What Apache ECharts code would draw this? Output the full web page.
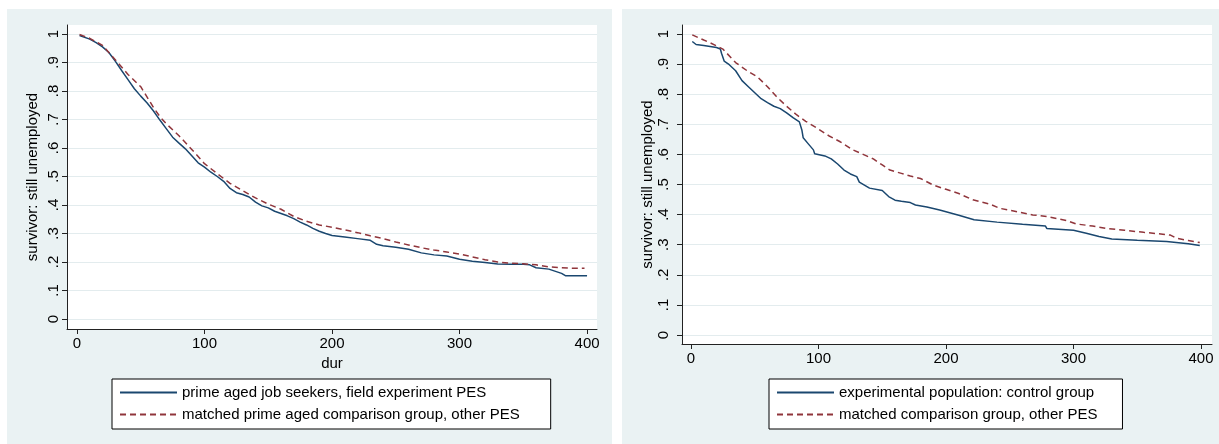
<!DOCTYPE html>
<html>
<head>
<meta charset="utf-8">
<script src="https://cdn.jsdelivr.net/npm/echarts@6/dist/echarts.min.js"></script>
<style>
html,body{margin:0;padding:0;background:#fff;}
#c{width:1219px;height:444px;}
</style>
</head>
<body>
<div id="c"></div>
<script>
// ---------- data ----------
const xTicks = [0, 100, 200, 300, 400];
const yTicks = [0, 0.1, 0.2, 0.3, 0.4, 0.5, 0.6, 0.7, 0.8, 0.9, 1];
const yTickLabels = ['0', '.1', '.2', '.3', '.4', '.5', '.6', '.7', '.8', '.9', '1'];
const yTitle = 'survivor: still unemployed';
const xTitleLeft = 'dur';

const leftNames = ['prime aged job seekers, field experiment PES', 'matched prime aged comparison group, other PES'];
const rightNames = ['experimental population: control group', 'matched comparison group, other PES'];

// Left panel: field experiment PES (solid)
const leftExpDur  = [2, 10, 15, 20, 25, 30, 35, 40, 45, 50, 55, 60, 65, 70, 75, 80, 85, 90, 95, 100, 105, 110, 115, 120, 125, 130, 135, 140, 145, 150, 155, 160, 165, 170, 175, 180, 185, 190, 195, 200, 210, 220, 230, 235, 240, 250, 260, 270, 280, 290, 300, 310, 320, 330, 340, 350, 355, 360, 370, 380, 383, 400];
const leftExpSurv = [0.995, 0.982, 0.97, 0.955, 0.935, 0.905, 0.872, 0.84, 0.808, 0.782, 0.758, 0.73, 0.698, 0.668, 0.638, 0.617, 0.597, 0.573, 0.548, 0.533, 0.515, 0.5, 0.483, 0.458, 0.443, 0.437, 0.428, 0.41, 0.397, 0.39, 0.378, 0.37, 0.362, 0.352, 0.34, 0.33, 0.318, 0.308, 0.3, 0.293, 0.288, 0.282, 0.276, 0.262, 0.257, 0.252, 0.245, 0.232, 0.225, 0.221, 0.21, 0.203, 0.198, 0.193, 0.192, 0.192, 0.19, 0.18, 0.175, 0.16, 0.152, 0.152];
// Left panel: matched comparison group (dashed)
const leftCmpDur  = [2, 10, 20, 30, 40, 50, 60, 65, 70, 80, 90, 100, 110, 120, 130, 140, 150, 160, 170, 180, 190, 200, 210, 220, 230, 240, 250, 260, 270, 280, 290, 300, 310, 320, 330, 340, 350, 360, 370, 380, 390, 398];
const leftCmpSurv = [0.998, 0.985, 0.96, 0.91, 0.858, 0.815, 0.742, 0.71, 0.685, 0.643, 0.595, 0.545, 0.51, 0.476, 0.45, 0.425, 0.403, 0.385, 0.36, 0.343, 0.33, 0.322, 0.313, 0.303, 0.292, 0.282, 0.27, 0.26, 0.25, 0.242, 0.235, 0.228, 0.218, 0.208, 0.2, 0.196, 0.194, 0.19, 0.183, 0.18, 0.178, 0.178];

// Right panel: control group (solid)
const rightExpDur  = [1, 4, 10, 20, 23, 24, 26, 30, 35, 40, 45, 50, 55, 60, 65, 70, 75, 80, 85, 87, 88, 92, 96, 97, 105, 110, 115, 120, 125, 130, 132, 140, 150, 155, 160, 165, 172, 176, 185, 195, 210, 222, 240, 260, 278, 279, 300, 310, 320, 330, 350, 373, 390, 399];
const rightExpSurv = [0.975, 0.965, 0.962, 0.955, 0.95, 0.935, 0.91, 0.898, 0.878, 0.845, 0.825, 0.805, 0.785, 0.772, 0.76, 0.752, 0.738, 0.722, 0.708, 0.68, 0.655, 0.635, 0.615, 0.602, 0.595, 0.585, 0.568, 0.548, 0.535, 0.526, 0.508, 0.488, 0.48, 0.46, 0.448, 0.444, 0.44, 0.432, 0.425, 0.415, 0.398, 0.383, 0.375, 0.368, 0.362, 0.354, 0.348, 0.338, 0.327, 0.319, 0.315, 0.311, 0.303, 0.297];
// Right panel: matched comparison group (dashed)
const rightCmpDur  = [1, 10, 15, 25, 35, 45, 52, 60, 67, 75, 83, 90, 99, 108, 117, 127, 135, 143, 150, 156, 165, 172, 180, 190, 200, 210, 221, 235, 242, 253, 268, 280, 295, 302, 315, 326, 340, 355, 370, 376, 381, 390, 399];
const rightCmpSurv = [0.997, 0.98, 0.971, 0.95, 0.905, 0.875, 0.858, 0.825, 0.792, 0.76, 0.731, 0.71, 0.687, 0.662, 0.642, 0.615, 0.6, 0.585, 0.565, 0.548, 0.537, 0.528, 0.52, 0.498, 0.484, 0.47, 0.449, 0.434, 0.421, 0.412, 0.399, 0.393, 0.38, 0.369, 0.362, 0.354, 0.348, 0.341, 0.335, 0.332, 0.321, 0.314, 0.307];

// ---------- build ----------
const zip = (a, b) => a.map((v, i) => [v, b[i]]);
const FONT = '"Liberation Sans", Arial, sans-serif';
const BLUE = '#1a476f';
const RED = '#90353b';
const PANEL_BG = '#eaf2f3';
const GRIDLINE = '#e3ecee';
const INK = '#000';

const yLabelFmt = v => {
  const i = yTicks.findIndex(t => Math.abs(t - v) < 1e-9);
  return i >= 0 ? yTickLabels[i] : '';
};

function xAxis(grid, min, max, name) {
  return {
    type: 'value', gridIndex: grid, min: min, max: max,
    name: name || '', nameLocation: 'middle', nameGap: 23,
    nameTextStyle: {fontFamily: FONT, fontSize: 15, color: INK},
    axisLine: {show: true, onZero: false, lineStyle: {color: '#222', width: 1}},
    axisTick: {show: true, inside: false, length: 5, customValues: xTicks, lineStyle: {color: '#222'}},
    axisLabel: {show: true, customValues: xTicks, margin: 7, fontFamily: FONT, fontSize: 15, color: INK, formatter: v => String(v)},
    splitLine: {show: false}
  };
}
function yAxis(grid, min, max, margin, nameGap) {
  return {
    type: 'value', gridIndex: grid, min: min, max: max,
    name: yTitle, nameLocation: 'middle', nameGap: nameGap, nameRotate: 90,
    nameTextStyle: {fontFamily: FONT, fontSize: 15, color: INK},
    axisLine: {show: true, onZero: false, lineStyle: {color: '#222', width: 1}},
    axisTick: {show: true, inside: false, length: 5, customValues: yTicks, lineStyle: {color: '#222'}},
    axisLabel: {show: true, customValues: yTicks, rotate: 90, margin: margin, fontFamily: FONT, fontSize: 15, color: INK, formatter: yLabelFmt},
    splitLine: {show: true, lineStyle: {color: GRIDLINE, width: 1.2}}
  };
}
function line(name, data, xi, dashed) {
  return {
    type: 'line', name: name, data: data, xAxisIndex: xi, yAxisIndex: xi,
    symbol: 'none', showSymbol: false, smooth: false,
    lineStyle: {color: dashed ? RED : BLUE, width: 1.5, type: dashed ? [6, 4] : 'solid'},
    itemStyle: {color: dashed ? RED : BLUE},
    emphasis: {disabled: true}
  };
}
function legend(names, left, padRight) {
  return {
    data: names, left: left, top: 379, orient: 'vertical',
    itemWidth: 57, itemHeight: 14, itemGap: 7, itemTextGap: 10,
    padding: [6, padRight, 7, 7],
    borderColor: '#000', borderWidth: 1, backgroundColor: '#fff',
    itemStyle: {opacity: 0, borderWidth: 0},
    textStyle: {fontFamily: FONT, fontSize: 15, color: INK},
    selectedMode: false
  };
}

const chart = echarts.init(document.getElementById('c'), null, {renderer: 'canvas'});
chart.setOption({
  animation: false,
  backgroundColor: '#fff',
  graphic: {elements: [
    {type: 'rect', z: -100, shape: {x: 7, y: 9, width: 605, height: 435}, style: {fill: PANEL_BG}, silent: true},
    {type: 'rect', z: -100, shape: {x: 622, y: 9, width: 597, height: 435}, style: {fill: PANEL_BG}, silent: true}
  ]},
  grid: [
    {left: 67, top: 25, width: 530, height: 304, show: true, backgroundColor: '#fff', borderWidth: 0},
    {left: 682, top: 25, width: 530, height: 319, show: true, backgroundColor: '#fff', borderWidth: 0}
  ],
  xAxis: [xAxis(0, -7.84, 407.8, xTitleLeft), xAxis(1, -7.06, 408.6, '')],
  yAxis: [yAxis(0, -0.0351, 1.0316, 6, 27), yAxis(1, -0.0299, 1.0299, 11, 27)],
  legend: [legend(leftNames, 112, 31), legend(rightNames, 769, 25)],
  series: [
    line(leftNames[0], zip(leftExpDur, leftExpSurv), 0, false),
    line(leftNames[1], zip(leftCmpDur, leftCmpSurv), 0, true),
    line(rightNames[0], zip(rightExpDur, rightExpSurv), 1, false),
    line(rightNames[1], zip(rightCmpDur, rightCmpSurv), 1, true)
  ]
});
</script>
</body>
</html>
